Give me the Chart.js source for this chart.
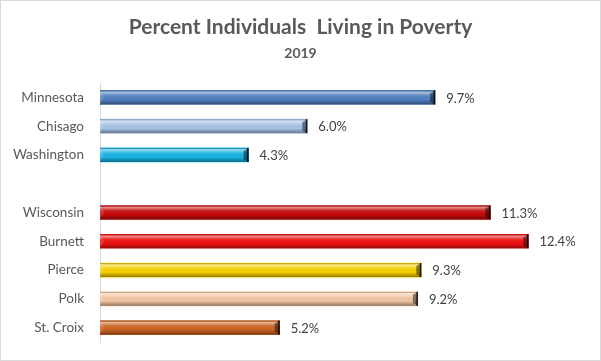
<!DOCTYPE html>
<html lang="en">
<head>
  <meta charset="UTF-8" />
  <title>Percent Individuals Living in Poverty</title>
  <script src="https://cdn.jsdelivr.net/npm/chart.js"></script>
  <style>
    body { margin: 0; background: #fff; }
    canvas { display: block; }
  </style>
</head>
<body>
  <canvas id="povertyChart" width="601" height="361"></canvas>

  <script>
    // data (blank row separates MN group from WI group)
    const categories = ['Minnesota', 'Chisago', 'Washington', '', 'Wisconsin', 'Burnett', 'Pierce', 'Polk', 'St. Croix'];
    const povertyPct = [9.7, 6.0, 4.3, null, 11.3, 12.4, 9.3, 9.2, 5.2];
    const barColors = ['#4f7fbf', '#a9c4e6', '#18b4e4', '#fff', '#c80a0a', '#f01010', '#f5d000', '#f3c6a2', '#cc6420'];

    const FONT = 'Lato, "Open Sans", sans-serif';

    // 3D-ish cylinder shading, end bevels and value labels
    const barDecor = {
      id: 'barDecor',
      beforeDraw(chart) {
        const c = chart.ctx;
        c.save();
        c.strokeStyle = '#d9d9d9';
        c.lineWidth = 1;
        c.strokeRect(0.5, 0.5, chart.width - 1, chart.height - 1);
        c.restore();
      },
      afterDatasetsDraw(chart) {
        const c = chart.ctx;
        const meta = chart.getDatasetMeta(0);
        meta.data.forEach((bar, i) => {
          if (povertyPct[i] == null) return;
          const h = bar.height;
          const top = bar.y - h / 2, bot = bar.y + h / 2;
          const x0 = bar.base, x1 = bar.x;
          c.save();
          const g = c.createLinearGradient(0, top, 0, bot);
          g.addColorStop(0, 'rgba(0,0,0,0.15)');
          g.addColorStop(0.12, 'rgba(255,255,255,0.55)');
          g.addColorStop(0.35, 'rgba(255,255,255,0.12)');
          g.addColorStop(0.65, 'rgba(0,0,0,0)');
          g.addColorStop(1, 'rgba(0,0,0,0.4)');
          c.fillStyle = g;
          c.fillRect(x0, top, x1 - x0, h);
          // right end bevel
          c.fillStyle = 'rgba(0,0,0,0.45)';
          c.beginPath();
          c.moveTo(x1 - 5, top + 3);
          c.lineTo(x1, top);
          c.lineTo(x1, bot);
          c.lineTo(x1 - 5, bot - 3);
          c.closePath();
          c.fill();
          c.fillStyle = 'rgba(0,0,0,0.8)';
          c.fillRect(x1 - 1.5, top, 1.5, h);
          // left end bevel (subtle)
          c.fillStyle = 'rgba(255,255,255,0.15)';
          c.beginPath();
          c.moveTo(x0, top);
          c.lineTo(x0 + 4, bar.y);
          c.lineTo(x0, bot);
          c.closePath();
          c.fill();
          // value label
          c.fillStyle = '#404040';
          c.font = '13px ' + FONT;
          c.textBaseline = 'middle';
          c.textAlign = 'left';
          c.fillText(povertyPct[i].toFixed(1) + '%', x1 + 11, bar.y + 1);
          c.restore();
        });
      }
    };

    new Chart(document.getElementById('povertyChart'), {
      type: 'bar',
      data: {
        labels: categories,
        datasets: [{
          data: povertyPct,
          backgroundColor: barColors,
          barThickness: 14
        }]
      },
      options: {
        indexAxis: 'y',
        responsive: false,
        animation: false,
        layout: { padding: { left: 0, right: 0, top: 0, bottom: 19 } },
        scales: {
          x: {
            display: false,
            min: 0,
            max: 14.5
          },
          y: {
            grid: { display: false },
            border: { display: true, color: '#d9d9d9' },
            ticks: {
              color: '#595959',
              font: { family: FONT, size: 13.5 },
              padding: 8
            },
            afterFit(scale) { scale.width = 100; }
          }
        },
        plugins: {
          legend: { display: false },
          tooltip: { enabled: false },
          title: {
            display: true,
            text: 'Percent Individuals  Living in Poverty',
            color: '#595959',
            font: { family: FONT, size: 21, weight: 'bold' },
            padding: { top: 15, bottom: 5 }
          },
          subtitle: {
            display: true,
            text: '2019',
            color: '#595959',
            font: { family: FONT, size: 14, weight: 'bold' },
            padding: { top: 0, bottom: 21 }
          }
        }
      },
      plugins: [barDecor]
    });
  </script>
</body>
</html>
